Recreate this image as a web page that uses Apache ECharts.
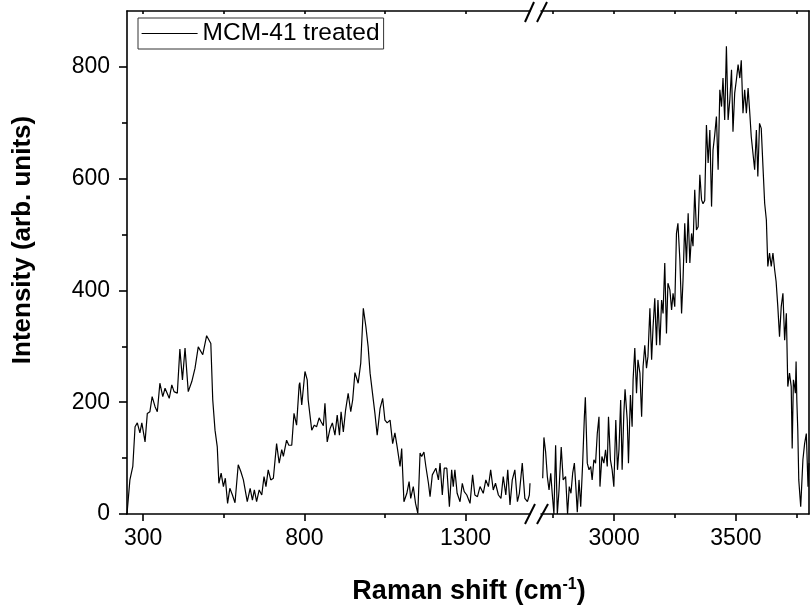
<!DOCTYPE html>
<html>
<head>
<meta charset="utf-8">
<script src="https://cdn.jsdelivr.net/npm/echarts@6/dist/echarts.min.js"></script>
<style>html,body{margin:0;padding:0;background:#fff}#c{width:810px;height:608px}</style>
</head>
<body>
<div id="c"></div>
<script>
// ---- data (Raman shift cm^-1, intensity arb. units) ----
var leftX = [250,259,268,275,282,290,296,306,313,321,328,337,344,352,361,368,373,381,389,396,402,406,414,422,430,440,451,461,471,476,485,497,502,510,516,523,530,535,542,549,555,562,569,577,585,595,603,611,616,623,632,639,645,652,660,668,675,681,688,696,704,714,722,730,735,745,752,761,768,776,784,786,792,802,809,812,823,831,838,846,852,859,864,871,880,887,895,902,909,914,921,928,936,944,950,957,967,975,983,991,998,1004,1009,1019,1026,1035,1043,1050,1057,1066,1074,1081,1088,1097,1102,1109,1118,1125,1130,1138,1145,1152,1159,1164,1171,1177,1185,1190,1197,1203,1208,1216,1221,1228,1234,1242,1250,1257,1262,1267,1274,1283,1290,1296,1304,1314,1322,1329,1337,1345,1355,1363,1371,1378,1386,1393,1402,1410,1417,1425,1431,1438,1445,1453,1461,1467,1476,1484,1492,1498,1500];
var leftY = [0,61,85,156,163,145,163,129,180,183,210,192,183,234,210,225,227,207,231,219,222,216,295,240,297,219,237,261,299,299,285,319,318,305,204,150,120,55,73,49,64,19,46,34,20,88,76,61,58,22,46,25,43,22,43,34,67,49,79,61,64,126,91,115,103,132,123,123,180,159,231,235,195,255,240,204,150,159,156,172,165,158,198,129,153,163,141,177,141,183,147,186,216,183,204,253,234,270,368,335,299,252,249,180,141,189,207,168,163,168,126,145,120,85,117,22,37,58,28,49,19,1,109,103,111,85,55,31,70,67,82,61,91,34,82,82,13,79,49,79,37,22,55,40,34,19,70,34,31,49,37,61,49,79,43,55,34,28,67,34,79,16,61,79,22,37,91,28,22,34,55];
var rightX = [2707,2712,2719,2726,2733,2740,2746,2753,2760,2767,2774,2783,2791,2801,2809,2816,2823,2830,2837,2843,2849,2856,2863,2871,2878,2882,2890,2897,2904,2910,2917,2924,2931,2938,2942,2950,2958,2965,2972,2977,2985,2992,2999,3007,3014,3020,3027,3033,3040,3045,3054,3059,3067,3074,3078,3085,3092,3098,3106,3113,3119,3126,3133,3139,3147,3154,3160,3167,3174,3180,3188,3195,3201,3208,3215,3221,3229,3236,3242,3249,3256,3262,3270,3277,3283,3290,3297,3304,3311,3318,3324,3331,3338,3345,3352,3359,3365,3372,3379,3386,3393,3400,3406,3413,3420,3427,3434,3441,3447,3454,3461,3468,3475,3482,3488,3495,3502,3509,3516,3522,3529,3536,3543,3550,3557,3563,3570,3577,3584,3590,3597,3604,3611,3618,3625,3631,3638,3645,3652,3659,3665,3672,3679,3686,3693,3700,3707,3713,3720,3727,3731,3736,3741,3744,3747,3750,3754,3758,3766,3775,3782,3789,3796,3800];
var rightY = [64,137,111,67,43,73,37,0,123,0,43,120,61,67,0,49,37,73,91,49,3,61,13,91,174,209,91,79,85,61,97,91,144,174,49,103,91,115,85,174,97,79,49,168,79,115,204,79,180,223,168,91,213,156,240,297,216,276,252,174,264,302,261,282,368,276,335,386,302,383,302,383,359,449,323,413,401,365,395,371,502,520,455,359,419,520,449,538,449,502,479,580,508,514,607,562,555,561,696,628,687,550,651,678,711,616,759,729,780,705,837,705,741,795,684,753,777,804,780,812,717,759,717,762,717,675,672,616,687,604,699,690,622,556,526,443,467,443,467,437,416,371,317,371,395,311,359,228,252,228,117,240,228,216,273,204,150,61,13,97,126,144,49,91];
var leftMajorTicks = [300, 800, 1300];
var leftMinorTicks = [550, 1050];
var rightMajorTicks = [3000, 3500];
var rightMinorTicks = [2750, 3250, 3750];
var yMajorTicks = [0, 200, 400, 600, 800];
var yMinorTicks = [100, 300, 500, 700];
var seriesName = 'MCM-41 treated';
var xTitle = '{b|Raman shift (cm}{s|-1}{b|)}';
var yTitle = 'Intensity (arb. units)';

function zip(a, b) { return a.map(function (v, i) { return [v, b[i]]; }); }
function plain(v) { return String(v); }

var FONT = "'Liberation Sans', Arial, sans-serif";
var LW = 1.6;
var chart = echarts.init(document.getElementById('c'), null, { renderer: 'canvas' });

function xAx(grid, min, max, pos, opts) {
  return Object.assign({
    type: 'value', gridIndex: grid, min: min, max: max, position: pos,
    axisLine: { show: true, onZero: false, lineStyle: { color: '#000', width: LW } },
    splitLine: { show: false },
    axisTick: { show: false },
    axisLabel: { show: false }
  }, opts);
}

var option = {
  animation: false,
  backgroundColor: '#fff',
  grid: [
    { left: 127, top: 11, width: 403, height: 503 },
    { left: 541, top: 11, width: 268, height: 503 }
  ],
  xAxis: [
    xAx(0, 250, 1500, 'bottom', {
      axisTick: { show: true, inside: false, length: 7, customValues: leftMajorTicks, lineStyle: { color: '#000', width: LW } },
      axisLabel: { show: true, customValues: leftMajorTicks, formatter: plain, margin: 13, fontSize: 23, color: '#000', fontFamily: FONT }
    }),
    xAx(1, 2700, 3800, 'bottom', {
      axisTick: { show: true, inside: false, length: 7, customValues: rightMajorTicks, lineStyle: { color: '#000', width: LW } },
      axisLabel: { show: true, customValues: rightMajorTicks, formatter: plain, margin: 13, fontSize: 23, color: '#000', fontFamily: FONT }
    }),
    xAx(0, 250, 1500, 'top', {
      axisTick: { show: true, inside: true, length: 3, customValues: leftMajorTicks.concat(leftMinorTicks), lineStyle: { color: '#000', width: LW } }
    }),
    xAx(1, 2700, 3800, 'top', {
      axisTick: { show: true, inside: true, length: 3, customValues: rightMajorTicks.concat(rightMinorTicks), lineStyle: { color: '#000', width: LW } }
    }),
    xAx(0, 250, 1500, 'bottom', {
      axisLine: { show: false, onZero: false },
      axisTick: { show: true, inside: false, length: 4, customValues: leftMinorTicks, lineStyle: { color: '#000', width: LW } }
    }),
    xAx(1, 2700, 3800, 'bottom', {
      axisLine: { show: false, onZero: false },
      axisTick: { show: true, inside: false, length: 4, customValues: rightMinorTicks, lineStyle: { color: '#000', width: LW } }
    })
  ],
  yAxis: [
    {
      type: 'value', gridIndex: 0, min: 0, max: 900, position: 'left',
      axisLine: { show: true, onZero: false, lineStyle: { color: '#000', width: LW } },
      splitLine: { show: false },
      axisTick: { show: true, length: 8, customValues: yMajorTicks, lineStyle: { color: '#000', width: LW } },
      axisLabel: { show: true, customValues: yMajorTicks, formatter: plain, margin: 17, fontSize: 23, color: '#000', fontFamily: FONT }
    },
    {
      type: 'value', gridIndex: 1, min: 0, max: 900, position: 'right',
      axisLine: { show: true, onZero: false, lineStyle: { color: '#000', width: LW } },
      splitLine: { show: false }, axisTick: { show: false }, axisLabel: { show: false }
    },
    {
      type: 'value', gridIndex: 0, min: 0, max: 900, position: 'left',
      axisLine: { show: false, onZero: false },
      splitLine: { show: false },
      axisTick: { show: true, length: 5, customValues: yMinorTicks, lineStyle: { color: '#000', width: LW } },
      axisLabel: { show: false }
    }
  ],
  legend: {
    data: [seriesName],
    left: 138, top: 18,
    itemWidth: 56, itemHeight: 14,
    itemStyle: { opacity: 0 },
    lineStyle: { color: '#000', width: 1.2, opacity: 1 },
    borderColor: '#333', borderWidth: 1,
    padding: [3, 4, 3, 3],
    textStyle: { fontSize: 24.5, color: '#000', fontFamily: FONT, lineHeight: 24 }
  },
  series: [
    {
      name: seriesName, type: 'line', xAxisIndex: 0, yAxisIndex: 0,
      data: zip(leftX, leftY), symbol: 'none', smooth: false,
      lineStyle: { color: '#000', width: 1.2 }, itemStyle: { color: '#000' }
    },
    {
      name: seriesName + ' (high)', type: 'line', xAxisIndex: 1, yAxisIndex: 1,
      data: zip(rightX, rightY), symbol: 'none', smooth: false,
      lineStyle: { color: '#000', width: 1.2 }, itemStyle: { color: '#000' }
    }
  ],
  graphic: [
    { type: 'line', shape: { x1: 525, y1: 22, x2: 534, y2: 2 }, style: { stroke: '#000', lineWidth: 2 } },
    { type: 'line', shape: { x1: 537, y1: 22, x2: 547, y2: 2 }, style: { stroke: '#000', lineWidth: 2 } },
    { type: 'line', shape: { x1: 525, y1: 524, x2: 535, y2: 504 }, style: { stroke: '#000', lineWidth: 2 } },
    { type: 'line', shape: { x1: 537, y1: 524, x2: 548, y2: 504 }, style: { stroke: '#000', lineWidth: 2 } },
    {
      type: 'text', x: 23, y: 240, rotation: Math.PI / 2,
      style: { text: yTitle, fill: '#000', font: 'bold 26px ' + FONT, align: 'center', verticalAlign: 'middle' }
    },
    {
      type: 'text', x: 469, y: 592,
      style: {
        text: xTitle, align: 'center', verticalAlign: 'middle',
        rich: {
          b: { fontSize: 27, fontWeight: 'bold', fontFamily: FONT, fill: '#000', lineHeight: 30 },
          s: { fontSize: 16, fontWeight: 'bold', fontFamily: FONT, fill: '#000', lineHeight: 16, verticalAlign: 'top' }
        }
      }
    }
  ]
};
chart.setOption(option);
</script>
</body>
</html>
